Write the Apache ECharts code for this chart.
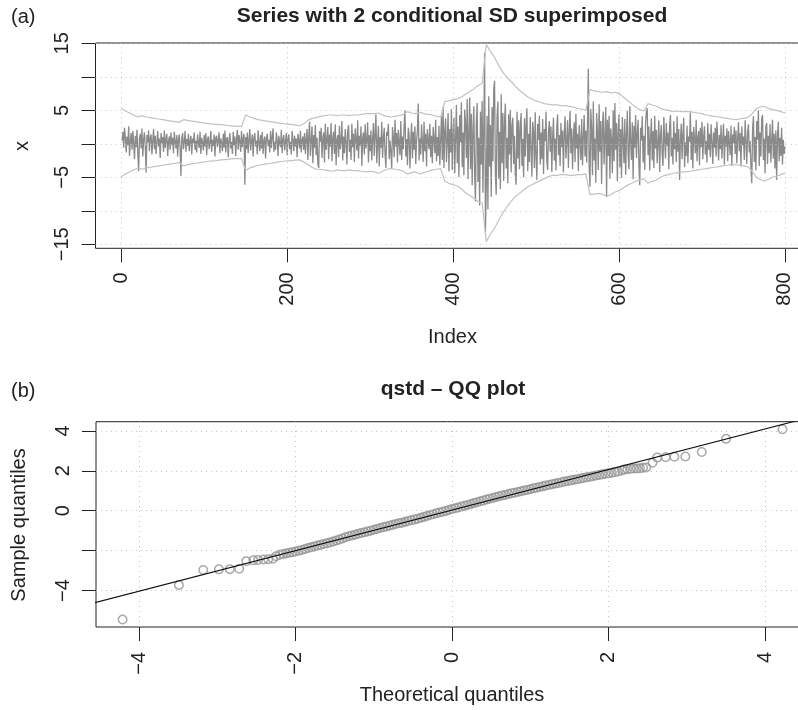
<!DOCTYPE html>
<html><head><meta charset="utf-8">
<script src="https://cdn.jsdelivr.net/npm/echarts@6/dist/echarts.min.js"></script>
<style>html,body{margin:0;padding:0;background:#fff}#c{width:798px;height:710px}</style>
</head><body><div id="c"></div>
<script>
// ---------- panel (a): series x, index 1..800 ----------
const seriesX = [
0.5,1.8,-0.6,2.4,0.9,-1.3,1.1,-0.2,2.6,-1.8,0.4,1.6,-0.9,1.9,0.2,-2.3,1.2,-0.5,2.1,-1.4,
-4.1,0.8,1.5,-0.7,2.3,-1.9,0.6,1.7,-0.3,-4.3,1.3,0.2,2.0,-1.1,0.9,1.4,-1.6,0.5,2.2,-0.8,
1.2,-1.5,0.3,1.9,-0.4,0.8,-2.1,1.6,0.1,1.0,-1.2,2.0,-0.6,0.7,1.5,-1.8,0.4,1.1,-0.9,1.7,
-0.2,0.9,-1.4,1.8,0.3,-0.7,1.3,-1.9,0.6,1.4,-0.5,-4.8,0.9,1.6,-0.8,0.2,1.9,-1.2,0.7,-0.3,
1.5,-1.1,0.4,1.2,-1.6,0.8,0.1,1.7,-0.9,0.5,-1.3,1.4,0.2,-0.6,1.8,-1.5,0.9,0.3,-1.0,1.3,
-0.4,1.6,-1.7,0.7,1.1,-0.8,0.2,1.9,-1.2,0.6,-0.3,1.4,-1.9,0.9,1.2,-0.5,0.4,1.7,-1.4,0.8,
0.1,-1.1,1.5,-0.6,2.0,-1.3,0.7,1.0,-2.0,0.5,1.6,-0.7,0.3,-1.5,1.8,-0.2,1.1,-1.8,0.6,2.1,
-0.9,1.3,0.4,-1.2,1.9,-0.5,0.8,1.5,-6.1,1.0,-0.8,1.7,-1.4,0.6,2.2,-1.0,0.3,1.4,-1.9,0.9,
1.6,-0.4,0.5,-1.6,2.0,0.2,-1.1,1.3,-0.7,1.8,-1.5,0.4,1.1,-2.2,0.8,1.5,-0.3,0.6,-1.3,1.9,
-0.6,1.0,2.3,-1.2,0.3,-0.9,1.7,0.5,-1.8,1.2,0.1,-0.5,2.1,-1.4,0.7,1.3,-1.0,0.2,1.6,-1.7,
0.9,1.4,-0.8,0.3,-1.6,1.9,0.6,-1.1,1.2,-0.4,0.8,-2.0,1.5,0.4,-0.7,2.0,-1.3,0.5,1.1,-0.9,
1.6,-1.5,0.7,2.2,-2.4,1.0,3.3,-1.8,0.4,2.6,-2.9,1.3,-0.6,2.8,-1.7,0.9,-3.0,-3.6,1.9,0.3,
2.4,-2.1,0.8,1.7,-2.8,3.0,-0.9,0.5,2.5,-2.3,1.4,-0.4,3.1,-2.6,0.7,1.8,-1.5,2.9,-3.2,0.6,
1.3,-2.0,2.7,-0.8,0.4,3.4,-2.5,1.1,-1.4,2.2,0.3,-3.1,1.9,2.8,-1.2,0.6,-2.4,3.0,-0.5,1.5,
-2.7,2.3,0.8,-1.0,3.5,-2.2,1.2,-0.3,2.6,-3.3,0.9,1.7,-1.6,2.9,-0.7,0.4,3.2,-2.8,1.3,-1.1,
2.0,-2.5,0.6,3.1,-1.8,1.4,4.4,-2.9,0.2,2.7,-3.4,1.0,-0.6,3.3,-2.1,0.8,2.4,-1.5,-3.6,1.8,
1.2,3.0,-2.3,0.5,-1.2,-3.7,2.5,0.9,-2.0,3.6,-0.4,1.6,-2.8,2.1,0.3,-1.7,3.4,-2.4,1.1,-0.8,
2.8,5.0,-1.9,0.7,-3.2,2.4,1.3,-3.7,0.4,3.1,-2.2,1.8,-0.9,2.6,-3.0,0.6,1.9,6.0,-2.5,0.8,
-1.6,2.9,0.2,-2.7,3.3,-1.1,1.5,-3.4,2.2,0.5,-0.8,3.0,-2.0,1.2,-2.9,2.5,0.7,-1.4,3.6,-2.6,
1.0,-1.8,2.7,-3.2,0.6,4.1,-2.4,5.5,-3.6,1.9,3.8,-2.7,0.4,4.6,-4.1,2.2,-1.3,5.2,-3.9,1.5,
3.9,-4.4,0.8,5.8,-2.9,2.6,-5.0,4.3,0.2,6.2,-3.5,1.7,-4.7,5.1,2.9,-2.1,6.7,-5.3,1.4,6.9,
-3.8,4.5,-6.2,2.1,5.6,-4.9,-8.6,3.2,6.1,-5.7,0.9,-9.2,4.8,-3.1,6.4,-7.3,2.6,13.6,-13.2,-6.5,
4.2,-9.8,7.1,-3.4,2.8,-7.9,5.5,-2.6,8.2,9.4,-4.7,-7.6,3.9,6.3,-5.2,1.8,-6.8,7.4,-2.9,4.6,
-5.5,3.2,6.0,-3.7,0.9,-5.9,4.4,-1.6,5.1,-4.3,2.7,3.9,-3.0,1.2,-4.6,-6.1,4.8,-2.2,3.5,-3.8,
2.4,4.6,-3.3,0.7,-5.0,3.8,-1.9,2.9,5.3,-4.1,1.5,-2.7,4.0,-0.8,-4.9,3.3,1.8,-3.6,4.7,-2.0,
-5.4,3.0,0.6,4.2,-3.1,1.7,-2.3,3.7,-4.5,2.2,0.4,4.8,-2.6,-3.9,1.9,3.4,-1.2,2.6,-4.2,1.0,
3.9,-2.5,0.8,-4.0,2.7,4.4,-1.7,1.3,-3.3,3.1,-0.5,2.0,-4.3,1.6,4.1,-2.2,0.3,3.5,-3.6,1.8,
4.9,-1.4,2.3,-3.8,0.9,3.2,-2.7,4.5,-0.7,1.5,-4.1,2.8,0.5,-2.4,3.7,-3.2,1.1,4.3,-1.9,2.0,
-2.8,3.1,11.2,-3.4,-6.4,5.2,2.1,-4.7,6.3,-2.5,0.8,-5.8,4.6,1.7,-3.9,5.9,-1.2,3.4,-6.0,2.6,
4.8,-3.1,1.0,5.5,-7.9,3.6,-1.8,4.2,-5.2,2.3,0.6,-4.4,5.0,-2.6,6.1,-0.9,3.1,-5.6,1.9,4.4,
-3.5,2.2,-5.1,4.0,0.7,-2.9,3.7,-4.6,1.4,4.9,-1.6,-3.8,5.6,0.3,-2.4,3.2,-5.3,2.7,-0.6,4.3,
-2.1,1.5,3.6,-3.3,-6.2,2.4,0.5,4.1,-2.8,1.2,-3.9,3.0,4.9,5.3,-1.7,2.6,-4.0,0.8,3.8,-2.5,
1.9,-3.6,4.2,-0.7,2.1,-2.9,0.4,3.5,-4.2,1.3,2.8,-1.5,-3.3,4.0,0.6,-2.2,3.1,-0.3,1.7,-3.8,
2.6,4.3,-1.9,0.9,-3.1,3.4,-0.8,1.6,-2.7,4.1,-1.2,2.2,-5.4,0.5,3.0,-2.3,1.4,3.9,-3.5,0.2,
-1.8,2.7,-2.9,1.1,0.3,4.7,-2.4,1.8,-3.7,2.5,0.7,-1.4,3.6,-2.6,0.9,1.9,-3.2,2.4,-0.5,3.3,
-2.3,1.0,2.6,-1.6,0.4,-2.8,3.1,-0.9,1.5,-2.0,2.9,0.2,-3.0,1.7,-0.6,2.4,-1.9,3.3,0.8,-2.5,
1.3,-0.8,2.8,-2.2,0.6,3.0,-3.1,1.2,-0.4,2.3,-2.6,1.9,0.3,-1.7,2.7,-3.3,1.4,0.1,2.5,-1.5,
2.0,-2.9,0.7,3.2,-1.1,1.6,-3.4,2.6,-0.2,1.1,-2.4,3.5,0.5,-3.0,1.8,2.9,-1.3,0.4,-3.6,-5.9,
2.3,4.1,-2.7,1.0,-4.0,3.4,0.6,5.0,-3.3,1.7,-1.9,3.8,4.3,-2.4,0.8,-4.4,2.6,3.1,-3.0,1.2,
-1.4,2.9,-2.8,0.4,3.6,-2.2,1.5,-3.7,2.0,-5.4,1.1,3.3,-2.6,0.9,-1.8,2.4,-3.1,0.6,-1.5,-0.4
];
// conditional SD bands (±2 sd), sampled at Index 0,5,10,...,800
const bandStep = 5;
const bandUpper = [
5.3,4.9,4.6,4.3,4.0,4.2,4.0,3.9,3.8,3.7,
3.6,3.5,3.4,3.3,3.2,3.6,3.5,3.4,3.3,3.2,
3.1,3.0,2.95,2.9,2.85,2.8,2.7,2.65,2.6,2.6,
4.3,4.0,3.8,3.6,3.5,3.4,3.3,3.2,3.1,3.0,
2.95,2.9,2.8,2.7,3.0,3.5,3.8,3.9,4.1,4.2,
4.3,4.3,4.2,4.3,4.3,4.2,4.3,4.3,4.4,4.5,
4.5,4.5,4.6,4.3,4.1,4.0,4.1,4.2,4.4,4.8,
4.6,4.5,4.7,4.5,4.4,4.3,4.1,4.0,6.3,6.4,
6.6,6.7,7.0,7.4,7.8,8.2,8.7,9.0,14.8,13.8,
12.9,11.7,10.7,9.9,9.3,8.6,8.0,7.5,7.0,6.7,
6.4,6.2,6.0,5.9,5.8,5.8,5.7,5.7,5.6,5.5,
5.3,5.2,5.0,8.1,7.9,7.8,7.7,7.8,7.6,7.7,
7.5,7.0,6.5,6.0,5.5,5.1,4.9,6.0,5.8,5.6,
5.3,5.1,5.0,4.8,4.9,4.8,4.8,4.8,4.7,4.6,
4.5,4.3,4.2,4.1,4.0,3.9,3.8,3.7,3.6,3.7,
3.8,3.9,4.4,5.2,5.5,5.6,5.3,5.1,5.0,4.8,
4.6
];
const bandLower = [
-4.9,-4.5,-4.2,-3.9,-3.6,-3.8,-3.6,-3.5,-3.4,-3.3,
-3.2,-3.1,-3.0,-2.9,-2.8,-3.3,-3.1,-3.0,-2.9,-2.8,
-2.7,-2.6,-2.55,-2.5,-2.4,-2.35,-2.3,-2.2,-2.2,-2.2,
-4.0,-3.6,-3.4,-3.2,-3.1,-3.0,-2.9,-2.8,-2.7,-2.6,
-2.55,-2.5,-2.45,-2.4,-2.7,-3.1,-3.5,-3.8,-3.8,-3.9,
-4.0,-4.1,-3.9,-4.0,-4.0,-3.9,-4.0,-4.0,-4.1,-4.2,
-4.1,-4.2,-4.4,-4.1,-3.8,-3.7,-3.8,-3.9,-4.1,-4.5,
-4.3,-4.2,-4.5,-4.3,-4.1,-3.9,-3.8,-3.7,-5.6,-5.9,
-6.1,-6.3,-6.7,-7.3,-7.7,-8.1,-8.6,-8.8,-14.6,-13.5,
-12.6,-11.4,-10.3,-9.4,-8.6,-7.9,-7.4,-6.9,-6.4,-6.1,
-5.8,-5.5,-5.2,-4.9,-4.7,-4.7,-4.6,-4.6,-4.7,-4.7,
-4.6,-4.6,-4.5,-7.6,-7.5,-7.4,-7.5,-7.9,-7.6,-7.2,
-7.0,-6.6,-6.2,-5.9,-5.6,-5.4,-5.2,-5.9,-5.6,-5.4,
-5.0,-4.7,-4.6,-4.4,-4.3,-4.2,-4.2,-4.1,-4.0,-3.9,
-3.8,-3.7,-3.6,-3.5,-3.4,-3.3,-3.2,-3.1,-3.1,-3.2,
-3.3,-3.4,-4.0,-4.9,-5.3,-5.6,-5.3,-5.0,-4.8,-4.6,
-4.4
];
const topXTicks = [0,200,400,600,800];
const topYTicks = [-15,-10,-5,0,5,10,15];
const topYLabels = [-15,-5,5,15];

// ---------- panel (b): QQ plot ----------
const qqTheo = [
-4.21,-3.49,-3.18,-2.98,-2.84,-2.72,-2.63,-2.54,-2.48,-2.41,-2.35,-2.29,-2.25,
-2.20,-2.16,-2.12,-2.08,-2.04,-2.00,-1.96,-1.92,-1.88,-1.84,
-1.80,-1.76,-1.72,-1.68,-1.64,-1.60,-1.56,-1.52,-1.48,-1.44,
-1.40,-1.36,-1.32,-1.28,-1.24,-1.20,-1.16,-1.12,-1.08,-1.04,
-1.00,-0.96,-0.92,-0.88,-0.84,-0.80,-0.76,-0.72,-0.68,-0.64,
-0.60,-0.56,-0.52,-0.48,-0.44,-0.40,-0.36,-0.32,-0.28,-0.24,
-0.20,-0.16,-0.12,-0.08,-0.04,0.00,0.04,0.08,0.12,0.16,
0.20,0.24,0.28,0.32,0.36,0.40,0.44,0.48,0.52,0.56,
0.60,0.64,0.68,0.72,0.76,0.80,0.84,0.88,0.92,0.96,
1.00,1.04,1.08,1.12,1.16,1.20,1.24,1.28,1.32,1.36,
1.40,1.44,1.48,1.52,1.56,1.60,1.64,1.68,1.72,1.76,
1.80,1.84,1.88,1.92,1.96,2.00,2.04,2.08,2.12,
2.17,2.20,2.24,2.28,2.32,2.36,2.40,2.44,2.48,2.56,2.62,2.73,2.84,2.98,3.19,3.50,4.22
];
const qqSample = [
-5.45,-3.73,-2.97,-2.94,-2.93,-2.91,-2.53,-2.49,-2.47,-2.45,-2.43,-2.41,-2.28,
-2.21,-2.17,-2.14,-2.11,-2.08,-2.05,-2.01,-1.97,-1.92,-1.87,
-1.83,-1.79,-1.75,-1.71,-1.67,-1.63,-1.59,-1.54,-1.49,-1.44,
-1.39,-1.33,-1.28,-1.24,-1.20,-1.16,-1.12,-1.08,-1.04,-1.00,
-0.96,-0.92,-0.87,-0.83,-0.79,-0.75,-0.71,-0.67,-0.63,-0.60,
-0.56,-0.52,-0.48,-0.44,-0.40,-0.36,-0.31,-0.27,-0.22,-0.18,
-0.13,-0.09,-0.05,-0.01,0.04,0.08,0.12,0.16,0.21,0.25,
0.29,0.33,0.38,0.42,0.47,0.51,0.56,0.60,0.64,0.68,
0.72,0.76,0.79,0.83,0.87,0.90,0.94,0.97,1.01,1.04,
1.08,1.12,1.15,1.19,1.22,1.26,1.29,1.33,1.36,1.39,
1.43,1.46,1.49,1.52,1.55,1.58,1.61,1.64,1.67,1.70,
1.73,1.76,1.79,1.82,1.85,1.87,1.90,1.93,1.96,
2.02,2.06,2.08,2.10,2.11,2.12,2.13,2.15,2.17,2.40,2.66,2.68,2.70,2.72,2.94,3.60,4.08
];
const qqLineX = [-4.7, 4.7];
const qqLineY = [-4.75, 4.81];
const botXTicks = [-4,-2,0,2,4];
const botYTicks = [-4,-2,0,2,4];
const botYLabels = [-4,0,2,4];

// ---------- chart ----------
const FONT = '"Liberation Sans", Arial, Helvetica, sans-serif';
const fmt = v => String(v).replace('-', '\u2212');
const labelStyle = {fontFamily: FONT, fontSize: 20, color: '#222'};
const tick = vals => ({show: true, inside: false, length: 14, customValues: vals, lineStyle: {color: '#222', width: 1}});
const gridLines = (xs, ys) => ({
  symbol: 'none', silent: true, animation: false,
  label: {show: false},
  lineStyle: {type: [1, 4], color: '#c4c4c4', width: 1},
  emphasis: {disabled: true},
  data: xs.map(v => ({xAxis: v})).concat(ys.map(v => ({yAxis: v})))
});

const chart = echarts.init(document.getElementById('c'), null, {renderer: 'canvas'});
chart.setOption({
  animation: false,
  backgroundColor: '#fff',
  grid: [
    {left: 95.5, top: 43, width: 716, height: 205.3, show: true, borderColor: '#222', borderWidth: 1, outerBoundsMode: 'none', containLabel: false},
    {left: 96, top: 421.7, width: 713, height: 205.3, show: true, borderColor: '#222', borderWidth: 1, outerBoundsMode: 'none', containLabel: false}
  ],
  xAxis: [
    {type: 'value', gridIndex: 0, min: -31, max: 832,
     axisLine: {show: false, onZero: false}, splitLine: {show: false},
     axisTick: tick(topXTicks),
     axisLabel: Object.assign({show: true, rotate: 90, margin: 24, customValues: topXTicks, formatter: fmt}, labelStyle)},
    {type: 'value', gridIndex: 1, min: -4.55, max: 4.56,
     axisLine: {show: false, onZero: false}, splitLine: {show: false},
     axisTick: tick(botXTicks),
     axisLabel: Object.assign({show: true, rotate: 90, margin: 25, customValues: botXTicks, formatter: fmt}, labelStyle)}
  ],
  yAxis: [
    {type: 'value', gridIndex: 0, min: -15.6, max: 15.05,
     axisLine: {show: false, onZero: false}, splitLine: {show: false},
     axisTick: tick(topYTicks),
     axisLabel: Object.assign({show: true, rotate: 90, margin: 23, customValues: topYLabels, formatter: fmt}, labelStyle)},
    {type: 'value', gridIndex: 1, min: -5.83, max: 4.46,
     axisLine: {show: false, onZero: false}, splitLine: {show: false},
     axisTick: tick(botYTicks),
     axisLabel: Object.assign({show: true, rotate: 90, margin: 23, customValues: botYLabels, formatter: fmt}, labelStyle)}
  ],
  series: [
    {type: 'line', xAxisIndex: 0, yAxisIndex: 0, z: 3,
     data: seriesX.map((v, i) => [i + 1, v]),
     symbol: 'none', showSymbol: false, silent: true,
     lineStyle: {color: '#8a8a8a', width: 1.3},
     markLine: gridLines(topXTicks, topYTicks)},
    {type: 'line', xAxisIndex: 0, yAxisIndex: 0, z: 4,
     data: bandUpper.map((v, i) => [i * bandStep, v]),
     symbol: 'none', silent: true, lineStyle: {color: '#c2c2c2', width: 1.2}},
    {type: 'line', xAxisIndex: 0, yAxisIndex: 0, z: 4,
     data: bandLower.map((v, i) => [i * bandStep, v]),
     symbol: 'none', silent: true, lineStyle: {color: '#c2c2c2', width: 1.2}},
    {type: 'scatter', xAxisIndex: 1, yAxisIndex: 1, z: 3, silent: true,
     data: qqTheo.map((t, i) => [t, qqSample[i]]),
     symbol: 'circle', symbolSize: 8.5,
     itemStyle: {color: 'rgba(255,255,255,0)', borderColor: '#959595', borderWidth: 1.5},
     markLine: gridLines(botXTicks, botYTicks)},
    {type: 'line', xAxisIndex: 1, yAxisIndex: 1, z: 5, silent: true,
     data: qqLineX.map((x, i) => [x, qqLineY[i]]),
     symbol: 'none', lineStyle: {color: '#111', width: 1.1}}
  ],
  graphic: [
    {type: 'text', x: 11, y: 17.5, style: {text: '(a)', fontFamily: FONT, fontSize: 20, fill: '#222', align: 'left', verticalAlign: 'middle'}},
    {type: 'text', x: 452, y: 16.5, style: {text: 'Series with 2 conditional SD superimposed', fontFamily: FONT, fontSize: 21, fontWeight: 'bold', fill: '#222', align: 'center', verticalAlign: 'middle'}},
    {type: 'text', x: 452.5, y: 337.5, style: {text: 'Index', fontFamily: FONT, fontSize: 20, fill: '#222', align: 'center', verticalAlign: 'middle'}},
    {type: 'text', x: 22, y: 146, rotation: Math.PI / 2, style: {text: 'x', fontFamily: FONT, fontSize: 20, fill: '#222', align: 'center', verticalAlign: 'middle'}},
    {type: 'text', x: 11, y: 391.5, style: {text: '(b)', fontFamily: FONT, fontSize: 20, fill: '#222', align: 'left', verticalAlign: 'middle'}},
    {type: 'text', x: 453, y: 389, style: {text: 'qstd \u2013 QQ plot', fontFamily: FONT, fontSize: 21, fontWeight: 'bold', fill: '#222', align: 'center', verticalAlign: 'middle'}},
    {type: 'text', x: 19, y: 525, rotation: Math.PI / 2, style: {text: 'Sample quantiles', fontFamily: FONT, fontSize: 20, fill: '#222', align: 'center', verticalAlign: 'middle'}},
    {type: 'text', x: 452, y: 695.5, style: {text: 'Theoretical quantiles', fontFamily: FONT, fontSize: 20, fill: '#222', align: 'center', verticalAlign: 'middle'}}
  ]
});
</script></body></html>
